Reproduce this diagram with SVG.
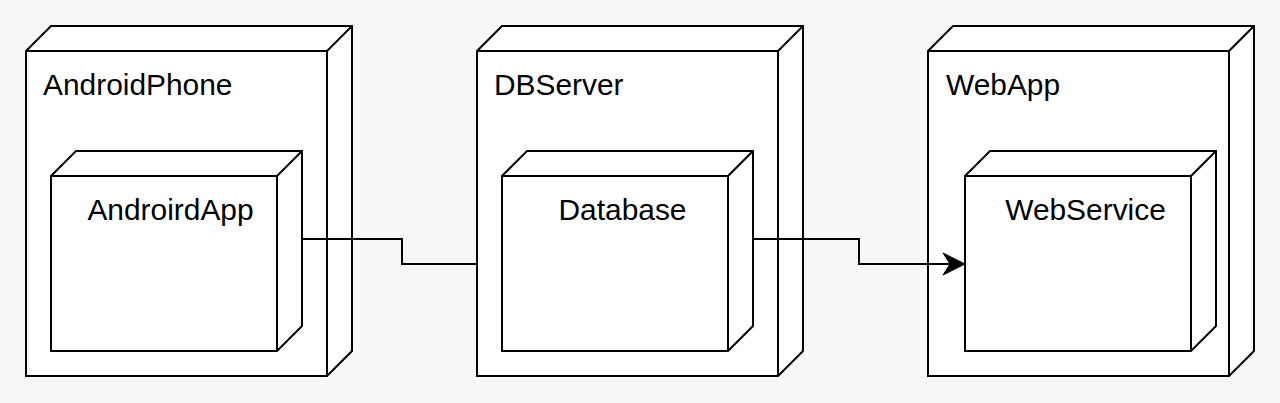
<svg xmlns="http://www.w3.org/2000/svg" width="1280" height="403" viewBox="0 0 1280 403">
<style>
.box{fill:#ffffff;stroke:#000000;stroke-width:2;stroke-linejoin:miter}
.lbl{font-family:"Liberation Sans",Arial,sans-serif;font-size:29.9px;fill:#000000}
.mid{text-anchor:middle}
.edge{fill:none;stroke:#000000;stroke-width:2}
</style>
<rect x="0" y="0" width="1280" height="403" fill="#f7f7f7"/>
<g id="node-androidphone">
<path class="box" d="M26,51 L51,26 L352,26 L352,351 L327,376 L26,376 Z"/>
<path class="box" d="M26,51 L327,51 L327,376 M327,51 L352,26"/>
<text class="lbl" x="43" y="95">AndroidPhone</text>
</g>
<g id="node-androirdapp">
<path class="box" d="M51,176 L76,151 L302,151 L302,326 L277,351 L51,351 Z"/>
<path class="box" d="M51,176 L277,176 L277,351 M277,176 L302,151"/>
<text class="lbl mid" x="170.5" y="220">AndroirdApp</text>
</g>
<g id="node-dbserver">
<path class="box" d="M477,51 L502,26 L803,26 L803,351 L778,376 L477,376 Z"/>
<path class="box" d="M477,51 L778,51 L778,376 M778,51 L803,26"/>
<text class="lbl" x="494" y="95">DBServer</text>
</g>
<g id="node-database">
<path class="box" d="M502,176 L527,151 L753,151 L753,326 L728,351 L502,351 Z"/>
<path class="box" d="M502,176 L728,176 L728,351 M728,176 L753,151"/>
<text class="lbl mid" x="622.5" y="220">Database</text>
</g>
<g id="node-webapp">
<path class="box" d="M928,51 L953,26 L1254,26 L1254,351 L1229,376 L928,376 Z"/>
<path class="box" d="M928,51 L1229,51 L1229,376 M1229,51 L1254,26"/>
<text class="lbl" x="946" y="95">WebApp</text>
</g>
<g id="node-webservice">
<path class="box" d="M965,176 L990,151 L1216,151 L1216,326 L1191,351 L965,351 Z"/>
<path class="box" d="M965,176 L1191,176 L1191,351 M1191,176 L1216,151"/>
<text class="lbl mid" x="1085.5" y="220">WebService</text>
</g>
<g id="connectors">
<path class="edge" d="M302,239 L402,239 L402,264 L477,264"/>
<path class="edge" d="M753,239 L859,239 L859,264 L952,264"/>
<path d="M965,264 L943,253 L950,264 L943,275 Z" fill="#000000" stroke="#000000" stroke-width="1"/>
</g>
</svg>
